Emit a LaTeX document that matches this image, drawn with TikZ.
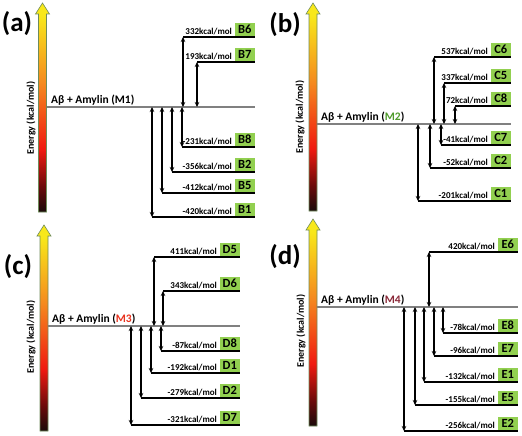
\documentclass[tikz,border=0pt]{standalone}
\usepackage{fontspec}
\setmainfont{Carlito}
\usetikzlibrary{arrows.meta,positioning}
\definecolor{boxgreen}{HTML}{92D050}
\definecolor{barrim}{HTML}{6E8B5A}
\definecolor{nearblack}{HTML}{1A0A0A}
\definecolor{deepred}{HTML}{6A0A0A}
\definecolor{hotred}{HTML}{F01A10}
\definecolor{hotorange}{HTML}{F58A1E}
\definecolor{sunyellow}{HTML}{F8E81A}
\definecolor{mtwo}{HTML}{4E9A2A}
\definecolor{mthree}{HTML}{E8321E}
\definecolor{mfour}{HTML}{8A2838}
\pgfdeclareverticalshading{energyshade}{100bp}{color(0bp)=(nearblack); color(25bp)=(nearblack); color(31bp)=(deepred); color(40bp)=(hotred); color(56bp)=(hotorange); color(72bp)=(sunyellow); color(100bp)=(sunyellow)}
\tikzset{
  refline/.style={draw=gray, line width=1.3pt},
  level/.style={draw=black, line width=1.4pt},
  updown/.style={{Stealth[length=5pt,width=4.5pt]}-{Stealth[length=5pt,width=4.5pt]}, line width=1.1pt},
  box/.style={fill=boxgreen, minimum width=20pt, minimum height=13pt, inner sep=0pt, font=\bfseries\fontsize{12.5}{13}\selectfont},
  kcal/.style={inner sep=1pt, font=\bfseries\fontsize{9}{10}\selectfont},
  mix/.style={inner sep=1pt, font=\bfseries\fontsize{11.5}{12}\selectfont},
  panel/.style={font=\bfseries\fontsize{27}{29}\selectfont},
  axis/.style={rotate=90, font=\bfseries\fontsize{10}{11}\selectfont},
  bar/.style={draw=barrim, line width=0.6pt, shading=energyshade},
}
\begin{document}
\begin{tikzpicture}[x=1pt,y=-1pt]
  \useasboundingbox (0,0) rectangle (522,436);
  % energy bars
  \draw[bar] (38.5,212) -- (38.5,14) -- (35.5,14) -- (42.5,3) -- (49.5,14) -- (46.5,14) -- (46.5,212) -- cycle;
  \draw[bar] (309,211) -- (309,14) -- (306,14) -- (313,3) -- (320,14) -- (317,14) -- (317,211) -- cycle;
  \draw[bar] (40,431) -- (40,236) -- (37,236) -- (44,225) -- (51,236) -- (48,236) -- (48,431) -- cycle;
  \draw[bar] (309,426) -- (309,230) -- (306,230) -- (313,219) -- (320,230) -- (317,230) -- (317,426) -- cycle;
  \node[axis] (ea) at (31,118) {Energy (kcal/mol)};
  \node[axis] (eb) at (300,117) {Energy (kcal/mol)};
  \node[axis] (ec) at (31,337) {Energy (kcal/mol)};
  \node[axis] (ed) at (301,331) {Energy (kcal/mol)};
  \node[panel] (pa) at (17,24) {(a)};
  \node[panel] (pb) at (285,25) {(b)};
  \node[panel] (pc) at (18,267) {(c)};
  \node[panel] (pd) at (285,257) {(d)};

  % (a) M1
  \draw[refline] (47,107) coordinate (M1) -- (255,107) coordinate (M1e);
  \node[mix, above right=0pt and 3pt of M1] (M1t) {Aβ + Amylin (M1)};
  \draw[level] (183,37) coordinate (B6s) -- (255,37) coordinate (B6e);
  \draw[level] (197,62) coordinate (B7s) -- (255,62) coordinate (B7e);
  \draw[level] (182,147) coordinate (B8s) -- (255,147) coordinate (B8e);
  \draw[level] (172,172) coordinate (B2s) -- (255,172) coordinate (B2e);
  \draw[level] (162,193) coordinate (B5s) -- (255,193) coordinate (B5e);
  \draw[level] (152,217) coordinate (B1s) -- (255,217) coordinate (B1e);
  \node[box, above left=1pt and 0pt of B6e] (B6) {B6};
  \node[box, above left=1pt and 0pt of B7e] (B7) {B7};
  \node[box, above left=1pt and 0pt of B8e] (B8) {B8};
  \node[box, above left=1pt and 0pt of B2e] (B2) {B2};
  \node[box, above left=1pt and 0pt of B5e] (B5) {B5};
  \node[box, above left=1pt and 0pt of B1e] (B1) {B1};
  \node[kcal, left=1.5pt of B6.south west, anchor=south east] {332kcal/mol};
  \node[kcal, left=1.5pt of B7.south west, anchor=south east] {193kcal/mol};
  \node[kcal, left=1.5pt of B8.south west, anchor=south east] {-231kcal/mol};
  \node[kcal, left=1.5pt of B2.south west, anchor=south east] {-356kcal/mol};
  \node[kcal, left=1.5pt of B5.south west, anchor=south east] {-412kcal/mol};
  \node[kcal, left=1.5pt of B1.south west, anchor=south east] {-420kcal/mol};
  \draw[updown] (B6s) -- (B6s |- M1);
  \draw[updown] (B7s) -- (B7s |- M1);
  \draw[updown] (B8s) -- (B8s |- M1);
  \draw[updown] (B2s) -- (B2s |- M1);
  \draw[updown] (B5s) -- (B5s |- M1);
  \draw[updown] (B1s) -- (B1s |- M1);

  % (b) M2
  \draw[refline] (317,124) coordinate (M2) -- (511,124) coordinate (M2e);
  \node[mix, above right=0pt and 3pt of M2] (M2t) {Aβ + Amylin (\textcolor{mtwo}{M2})};
  \draw[level] (434,57) coordinate (C6s) -- (511,57) coordinate (C6e);
  \draw[level] (444,83) coordinate (C5s) -- (511,83) coordinate (C5e);
  \draw[level] (455,106) coordinate (C8s) -- (511,106) coordinate (C8e);
  \draw[level] (441,145) coordinate (C7s) -- (511,145) coordinate (C7e);
  \draw[level] (430,168) coordinate (C2s) -- (511,168) coordinate (C2e);
  \draw[level] (418,201) coordinate (C1s) -- (511,201) coordinate (C1e);
  \node[box, above left=1pt and 0pt of C6e] (C6) {C6};
  \node[box, above left=1pt and 0pt of C5e] (C5) {C5};
  \node[box, above left=1pt and 0pt of C8e] (C8) {C8};
  \node[box, above left=1pt and 0pt of C7e] (C7) {C7};
  \node[box, above left=1pt and 0pt of C2e] (C2) {C2};
  \node[box, above left=1pt and 0pt of C1e] (C1) {C1};
  \node[kcal, left=1.5pt of C6.south west, anchor=south east] {537kcal/mol};
  \node[kcal, left=1.5pt of C5.south west, anchor=south east] {337kcal/mol};
  \node[kcal, left=1.5pt of C8.south west, anchor=south east] {72kcal/mol};
  \node[kcal, left=1.5pt of C7.south west, anchor=south east] {-41kcal/mol};
  \node[kcal, left=1.5pt of C2.south west, anchor=south east] {-52kcal/mol};
  \node[kcal, left=1.5pt of C1.south west, anchor=south east] {-201kcal/mol};
  \draw[updown] (C6s) -- (C6s |- M2);
  \draw[updown] (C5s) -- (C5s |- M2);
  \draw[updown] (C8s) -- (C8s |- M2);
  \draw[updown] (C7s) -- (C7s |- M2);
  \draw[updown] (C2s) -- (C2s |- M2);
  \draw[updown] (C1s) -- (C1s |- M2);

  % (c) M3
  \draw[refline] (48,326) coordinate (M3) -- (240,326) coordinate (M3e);
  \node[mix, above right=0pt and 3pt of M3] (M3t) {Aβ + Amylin (\textcolor{mthree}{M3})};
  \draw[level] (154,257) coordinate (D5s) -- (240,257) coordinate (D5e);
  \draw[level] (163,291) coordinate (D6s) -- (240,291) coordinate (D6e);
  \draw[level] (161,351) coordinate (D8s) -- (240,351) coordinate (D8e);
  \draw[level] (151,373) coordinate (D1s) -- (240,373) coordinate (D1e);
  \draw[level] (141,398) coordinate (D2s) -- (240,398) coordinate (D2e);
  \draw[level] (131,425) coordinate (D7s) -- (240,425) coordinate (D7e);
  \node[box, above left=1pt and 0pt of D5e] (D5) {D5};
  \node[box, above left=1pt and 0pt of D6e] (D6) {D6};
  \node[box, above left=1pt and 0pt of D8e] (D8) {D8};
  \node[box, above left=1pt and 0pt of D1e] (D1) {D1};
  \node[box, above left=1pt and 0pt of D2e] (D2) {D2};
  \node[box, above left=1pt and 0pt of D7e] (D7) {D7};
  \node[kcal, left=1.5pt of D5.south west, anchor=south east] {411kcal/mol};
  \node[kcal, left=1.5pt of D6.south west, anchor=south east] {343kcal/mol};
  \node[kcal, left=1.5pt of D8.south west, anchor=south east] {-87kcal/mol};
  \node[kcal, left=1.5pt of D1.south west, anchor=south east] {-192kcal/mol};
  \node[kcal, left=1.5pt of D2.south west, anchor=south east] {-279kcal/mol};
  \node[kcal, left=1.5pt of D7.south west, anchor=south east] {-321kcal/mol};
  \draw[updown] (D5s) -- (D5s |- M3);
  \draw[updown] (D6s) -- (D6s |- M3);
  \draw[updown] (D8s) -- (D8s |- M3);
  \draw[updown] (D1s) -- (D1s |- M3);
  \draw[updown] (D2s) -- (D2s |- M3);
  \draw[updown] (D7s) -- (D7s |- M3);

  % (d) M4
  \draw[refline] (317,307) coordinate (M4) -- (518,307) coordinate (M4e);
  \node[mix, above right=0pt and 3pt of M4] (M4t) {Aβ + Amylin (\textcolor{mfour}{M4})};
  \draw[level] (429,252) coordinate (E6s) -- (518,252) coordinate (E6e);
  \draw[level] (443,333) coordinate (E8s) -- (518,333) coordinate (E8e);
  \draw[level] (434,356) coordinate (E7s) -- (518,356) coordinate (E7e);
  \draw[level] (424,382) coordinate (E1s) -- (518,382) coordinate (E1e);
  \draw[level] (415,405) coordinate (E5s) -- (518,405) coordinate (E5e);
  \draw[level] (404,431) coordinate (E2s) -- (518,431) coordinate (E2e);
  \node[box, above left=1pt and 0pt of E6e] (E6) {E6};
  \node[box, above left=1pt and 0pt of E8e] (E8) {E8};
  \node[box, above left=1pt and 0pt of E7e] (E7) {E7};
  \node[box, above left=1pt and 0pt of E1e] (E1) {E1};
  \node[box, above left=1pt and 0pt of E5e] (E5) {E5};
  \node[box, above left=1pt and 0pt of E2e] (E2) {E2};
  \node[kcal, left=1.5pt of E6.south west, anchor=south east] {420kcal/mol};
  \node[kcal, left=1.5pt of E8.south west, anchor=south east] {-78kcal/mol};
  \node[kcal, left=1.5pt of E7.south west, anchor=south east] {-96kcal/mol};
  \node[kcal, left=1.5pt of E1.south west, anchor=south east] {-132kcal/mol};
  \node[kcal, left=1.5pt of E5.south west, anchor=south east] {-155kcal/mol};
  \node[kcal, left=1.5pt of E2.south west, anchor=south east] {-256kcal/mol};
  \draw[updown] (E6s) -- (E6s |- M4);
  \draw[updown] (E8s) -- (E8s |- M4);
  \draw[updown] (E7s) -- (E7s |- M4);
  \draw[updown] (E1s) -- (E1s |- M4);
  \draw[updown] (E5s) -- (E5s |- M4);
  \draw[updown] (E2s) -- (E2s |- M4);
\end{tikzpicture}
\end{document}
